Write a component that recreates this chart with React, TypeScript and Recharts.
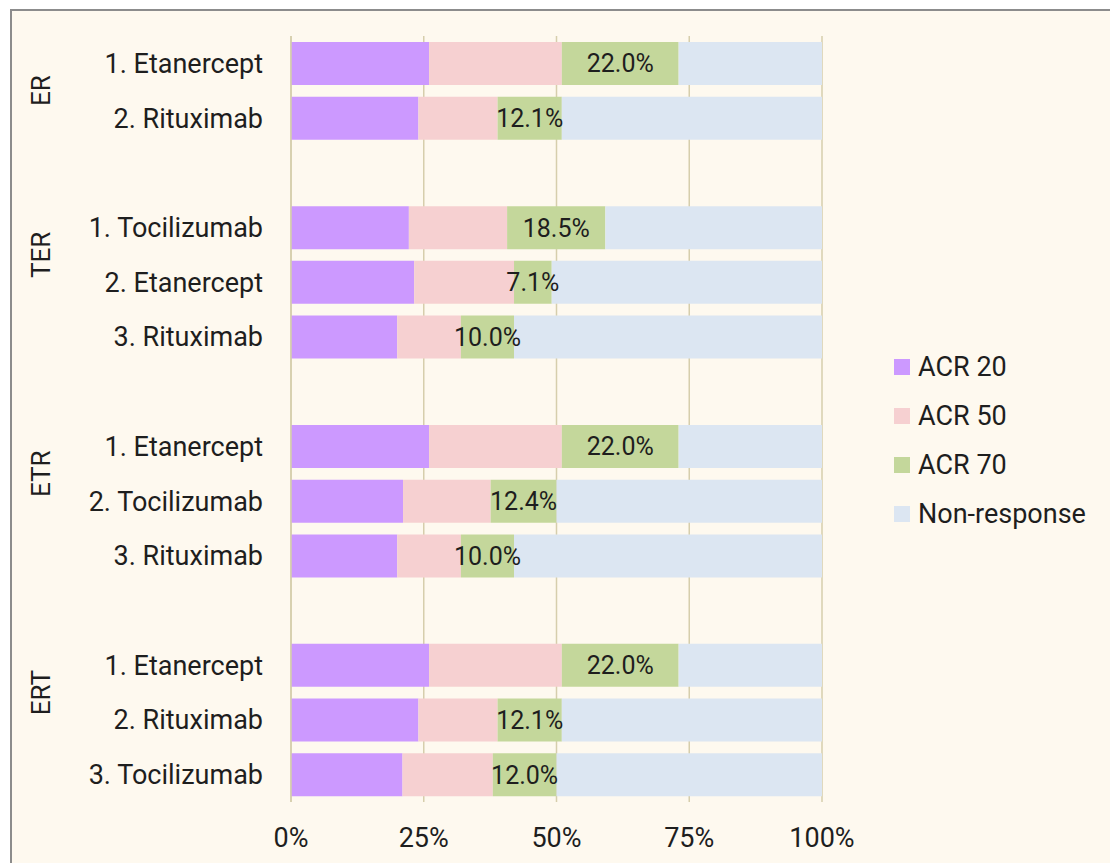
import { BarChart, Bar, XAxis, YAxis, CartesianGrid, LabelList } from "recharts";

// rows top to bottom; "" rows are the spacer rows between groups
const CATEGORIES = [
  "1. Etanercept", "2. Rituximab", "",
  "1. Tocilizumab", "2. Etanercept", "3. Rituximab", "",
  "1. Etanercept", "2. Tocilizumab", "3. Rituximab", "",
  "1. Etanercept", "2. Rituximab", "3. Tocilizumab",
];
// spacer rows belong to the group that follows them
const GROUPS = [
  "ER", "ER",
  "TER", "TER", "TER", "TER",
  "ETR", "ETR", "ETR", "ETR",
  "ERT", "ERT", "ERT", "ERT",
];

const ACR20 = [26, 24, null, 22.2, 23.2, 20, null, 26, 21.1, 20, null, 26, 24, 21];
const ACR50 = [25, 14.9, null, 18.5, 18.8, 12, null, 25, 16.5, 12, null, 25, 14.9, 17];
const ACR70 = [22, 12.1, null, 18.5, 7.1, 10, null, 22, 12.4, 10, null, 22, 12.1, 12];
const NON_RESPONSE = [27, 49, null, 40.8, 50.9, 58, null, 27, 50, 58, null, 27, 49, 50];

const X_TICKS = [0, 25, 50, 75, 100];

const SERIES = [
  { key: "acr20", label: "ACR 20", color: "#CC99FF" },
  { key: "acr50", label: "ACR 50", color: "#F6D0D1" },
  { key: "acr70", label: "ACR 70", color: "#C4D79B" },
  { key: "non", label: "Non-response", color: "#DCE6F2" },
];

const data = CATEGORIES.map((name, i) => ({
  id: `r${i}`,
  name,
  group: GROUPS[i],
  acr20: ACR20[i],
  acr50: ACR50[i],
  acr70: ACR70[i],
  non: NON_RESPONSE[i],
}));

const FONT = "Roboto, 'Liberation Sans', sans-serif";
const TEXT = "#1e1e1e";
const GRID = "#D6CEAC";

const CHART_W = 1090;
const CHART_H = 850;
const MARGIN = { top: 25, right: 280, left: 0, bottom: 19 };
const X_AXIS_H = 40;
const Y_AXIS_W = 279;
const STEP = (CHART_H - MARGIN.top - MARGIN.bottom - X_AXIS_H) / data.length;

function CategoryTick(props: any) {
  const { x, y, payload } = props;
  const i = Number(String(payload.value).slice(1));
  const row = data[i];
  const firstOfGroup = i === 0 || data[i - 1].group !== row.group;
  let groupLabel = null;
  if (firstOfGroup) {
    const n = data.filter((d) => d.group === row.group).length;
    const cy = y + ((n - 1) / 2) * STEP;
    groupLabel = (
      <text
        x={29}
        y={cy}
        transform={`rotate(-90, 29, ${cy})`}
        textAnchor="middle"
        dy="0.35em"
        fontSize={26}
        fontFamily={FONT}
        fill={TEXT}
      >
        {row.group}
      </text>
    );
  }
  return (
    <g>
      {groupLabel}
      <text x={x} y={y} dy="0.35em" textAnchor="end" fontSize={27} fontFamily={FONT} fill={TEXT}>
        {row.name}
      </text>
    </g>
  );
}

export default function App() {
  return (
    <div
      style={{
        position: "fixed",
        left: 0,
        top: 0,
        width: 1110,
        height: 863,
        overflow: "hidden",
        background: "#ffffff",
      }}
    >
      <div
        style={{
          position: "absolute",
          left: 10,
          top: 9,
          width: 1200,
          height: 1000,
          border: "2px solid #8c8c8c",
          background: "#FEF9EF",
          fontFamily: FONT,
        }}
      >
        <BarChart
          width={CHART_W}
          height={CHART_H}
          data={data}
          layout="vertical"
          margin={MARGIN}
          barSize={43}
        >
          <CartesianGrid horizontal={false} stroke={GRID} strokeWidth={1.5} />
          <XAxis
            type="number"
            domain={[0, 100]}
            ticks={X_TICKS}
            tickFormatter={(v: number) => `${v}%`}
            axisLine={false}
            tickLine={false}
            tickSize={0}
            tickMargin={26}
            height={X_AXIS_H}
            interval={0}
            tick={{ fontSize: 27, fill: TEXT, fontFamily: FONT }}
          />
          <YAxis
            type="category"
            dataKey="id"
            width={Y_AXIS_W}
            axisLine={{ stroke: GRID, strokeWidth: 1.5 }}
            tickLine={false}
            tickSize={0}
            tickMargin={28}
            interval={0}
            tick={<CategoryTick />}
          />
          {SERIES.map((s) => (
            <Bar key={s.key} dataKey={s.key} name={s.label} stackId="a" fill={s.color} isAnimationActive={false}>
              {s.key === "acr70" && (
                <LabelList
                  dataKey="acr70"
                  position="center"
                  formatter={(v: any) => (v == null ? "" : `${Number(v).toFixed(1)}%`)}
                  style={{ fontSize: 25, fill: TEXT, fontFamily: FONT }}
                />
              )}
            </Bar>
          ))}
        </BarChart>
        <div style={{ position: "absolute", left: 882, top: 331 }}>
          {SERIES.map((s) => (
            <div
              key={s.key}
              style={{ display: "flex", alignItems: "center", height: 49, fontSize: 27, color: TEXT }}
            >
              <span style={{ display: "inline-block", width: 16, height: 16, background: s.color, marginRight: 8 }} />
              <span>{s.label}</span>
            </div>
          ))}
        </div>
      </div>
    </div>
  );
}
